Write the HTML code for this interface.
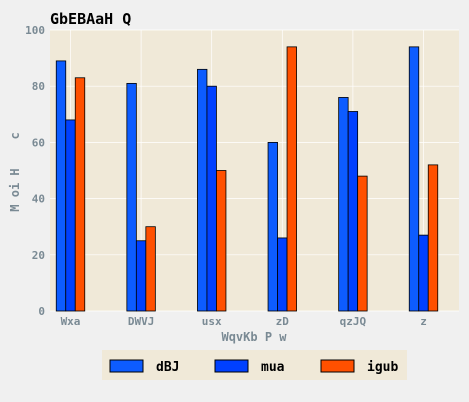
<!DOCTYPE html>
<html><head><meta charset="utf-8"><style>
body{margin:0;background:#f0f0f0;overflow:hidden;}
svg{display:block;}
svg text{font-family:"DejaVu Sans Mono","Liberation Mono",monospace;font-weight:bold;}
</style></head><body>
<svg width="469" height="402">
<rect x="0" y="0" width="469" height="402" fill="#f0f0f0"/>
<text x="50" y="24" font-size="15" fill="#000">GbEBAaH Q</text>
<rect x="50" y="30" width="409" height="281" fill="#f0e9d8"/>
<g id="grid"></g><g id="bars"></g><g id="axes"></g>
<text x="254" y="341" font-size="12" fill="#7a8a94" text-anchor="middle">WqvKb P w</text>
<text transform="translate(19,172) rotate(-90)" font-size="12" fill="#7a8a94" text-anchor="middle" xml:space="preserve">M oi H    c</text>
<g>
<rect x="102" y="350" width="305" height="30" fill="#f0e9d8"/>
<rect x="110" y="360" width="33" height="12" fill="#0d5cff" stroke="#000"/>
<text x="156" y="371" font-size="13" fill="#000">dBJ</text>
<rect x="215" y="360" width="33" height="12" fill="#0040ff" stroke="#000"/>
<text x="261" y="371" font-size="13" fill="#000">mua</text>
<rect x="321" y="360" width="33" height="12" fill="#ff5000" stroke="#000"/>
<text x="367" y="371" font-size="13" fill="#000">igub</text>
</g>
</svg>
<script>
const categories=["Wxa","DWVJ","usx","zD","qzJQ","z"];
const dBJ=[89,81,86,60,76,94];
const mua=[68,25,80,26,71,27];
const igub=[83,30,50,94,48,52];
const yTicks=[0,20,40,60,80,100];
const NS="http://www.w3.org/2000/svg";
const y=v=>311-v*2.81;
const xc=i=>70.5+70.6*i;
const bw=9.5;
const grid=document.getElementById('grid'),bars=document.getElementById('bars'),axes=document.getElementById('axes');
function mk(tag,attrs,parent){const e=document.createElementNS(NS,tag);for(const k in attrs)e.setAttribute(k,attrs[k]);parent.appendChild(e);return e;}
yTicks.forEach(t=>{
 const l=mk('line',{x1:50,x2:459,y1:y(t),y2:y(t),stroke:'#fff','stroke-width':0.7},grid);
 
 
 const tx=mk('text',{x:45,y:y(t)+4,'font-size':11,fill:'#7a8a94','text-anchor':'end'},axes);
 tx.textContent=t;
 
 
});
categories.forEach((c,i)=>{
 const g=mk('line',{x1:xc(i),x2:xc(i),y1:30,y2:311,stroke:'#fff','stroke-width':0.7},grid);
 
 
 const tx=mk('text',{x:xc(i),y:325,'font-size':11,fill:'#7a8a94','text-anchor':'middle'},axes);
 tx.textContent=c;
 
 
 [[dBJ,'#0d5cff','dbj'],[mua,'#0040ff','mua'],[igub,'#ff5000','igub']].forEach((s,j)=>{
  const v=s[0][i];
  const r=mk('rect',{x:xc(i)+(j-1.5)*bw,y:y(v),width:bw,height:311-y(v),fill:s[1],stroke:'#000','stroke-width':0.8},bars);
  
  
 });
});
</script>
</body></html>
